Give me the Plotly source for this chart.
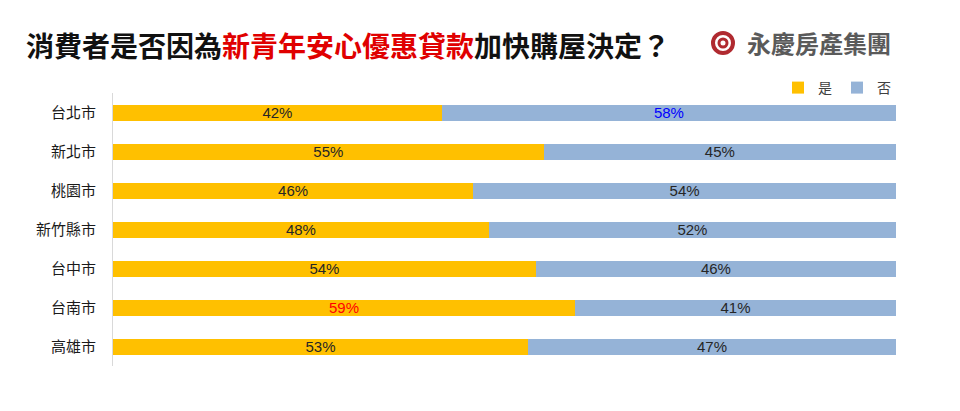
import plotly.graph_objects as go

cities = ["台北市", "新北市", "桃園市", "新竹縣市", "台中市", "台南市", "高雄市"]
yes_vals = [42, 55, 46, 48, 54, 59, 53]
no_vals = [58, 45, 54, 52, 46, 41, 47]
yes_label_colors = ["#262626", "#262626", "#262626", "#262626", "#262626", "#ff0000", "#262626"]
no_label_colors = ["#0000ff", "#262626", "#262626", "#262626", "#262626", "#262626", "#262626"]

YELLOW = "#ffc000"
BLUE = "#95b3d7"
FONT = "Noto Sans CJK TC, Noto Sans, sans-serif"

# plot area in pixels: x 113..896, y 93..366
PL, PR, PT, PB = 113, 896, 93, 366
W, H = 960, 411


def px(x):
    return (x - PL) / (PR - PL)


def py(y):
    return (PB - y) / (PB - PT)


fig = go.Figure()
fig.add_trace(go.Bar(
    y=cities, x=yes_vals, orientation="h", name="是",
    marker=dict(color=YELLOW, line=dict(width=0)),
    text=[f"{v}%" for v in yes_vals], textposition="inside", insidetextanchor="middle",
    textfont=dict(color=yes_label_colors, size=15, family="Liberation Sans, sans-serif"),
    hoverinfo="skip",
))
fig.add_trace(go.Bar(
    y=cities, x=no_vals, orientation="h", name="否",
    marker=dict(color=BLUE, line=dict(width=0)),
    text=[f"{v}%" for v in no_vals], textposition="inside", insidetextanchor="middle",
    textfont=dict(color=no_label_colors, size=15, family="Liberation Sans, sans-serif"),
    hoverinfo="skip",
))

fig.update_layout(
    barmode="stack",
    bargap=0.59,
    width=W, height=H,
    margin=dict(l=PL, r=W - PR, t=PT, b=H - PB),
    paper_bgcolor="white", plot_bgcolor="white",
    font=dict(family=FONT, color="#222222"),
    xaxis=dict(range=[0, 100], visible=False, fixedrange=True),
    yaxis=dict(autorange="reversed", showline=True, linecolor="#d9d9d9", linewidth=1,
               ticks="", tickfont=dict(size=15, color="#1a1a1a", family=FONT),
               ticklabelstandoff=13, showgrid=False, fixedrange=True),
    legend=dict(orientation="h", x=1.0, xanchor="right", y=py(88), yanchor="middle",
                font=dict(size=14, color="#404040"), itemwidth=30,
                traceorder="normal", bgcolor="rgba(0,0,0,0)"),
    uniformtext=dict(mode="show", minsize=10),
    showlegend=True,
)

fig.add_annotation(
    xref="paper", yref="paper", x=px(24), y=py(45),
    xanchor="left", yanchor="middle", showarrow=False,
    text="<b>消費者是否因為<span style='color:#e00000'>新青年安心優惠貸款</span>加快購屋決定？</b>",
    font=dict(size=28, color="#111111", family=FONT),
)

# logo
r = 10
cx, cy = 723, 43
fig.add_shape(type="circle", xref="paper", yref="paper",
              x0=px(cx - r), x1=px(cx + r), y0=py(cy + r), y1=py(cy - r),
              line=dict(color="#b02a30", width=4))
r2 = 4
fig.add_shape(type="circle", xref="paper", yref="paper",
              x0=px(cx - r2), x1=px(cx + r2), y0=py(cy + r2), y1=py(cy - r2),
              line=dict(color="#b02a30", width=3))
fig.add_annotation(
    xref="paper", yref="paper", x=px(745), y=py(43),
    xanchor="left", yanchor="middle", showarrow=False,
    text="<b>永慶房產集團</b>",
    font=dict(size=24, color="#5a5a5a", family=FONT),
)

fig.write_html("out.html")
